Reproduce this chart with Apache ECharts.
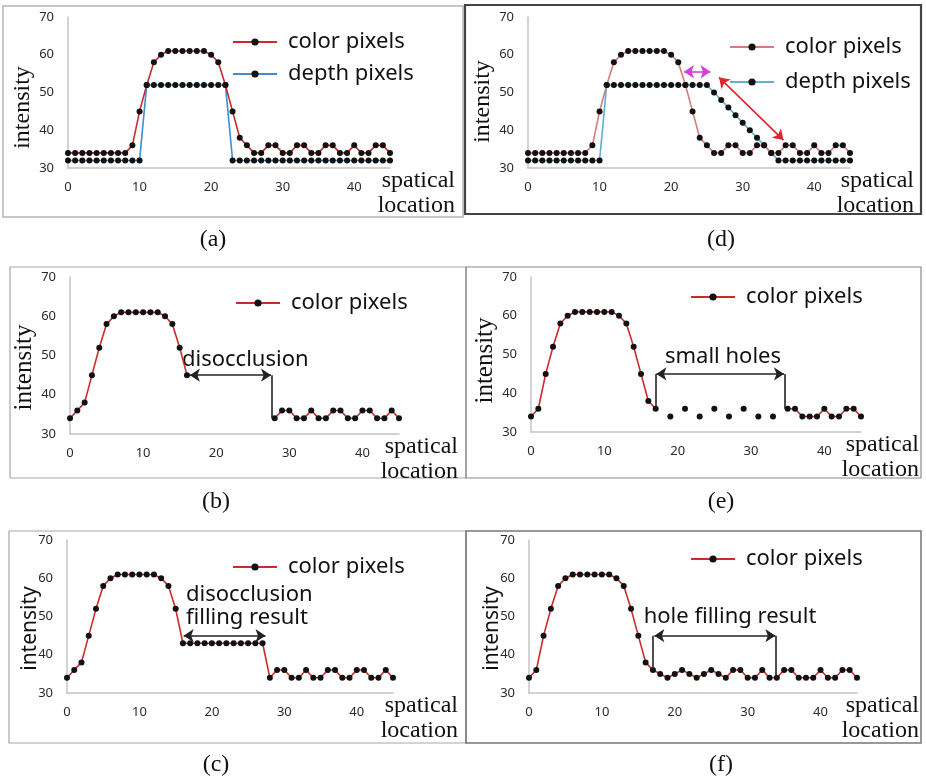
<!DOCTYPE html>
<html>
<head>
<meta charset="utf-8">
<script src="https://cdn.jsdelivr.net/npm/echarts@6/dist/echarts.min.js"></script>
<style>
  html, body { margin: 0; padding: 0; background: #fff; }
  #chart { width: 926px; height: 780px; }
</style>
</head>
<body>
<div id="chart"></div>
<script>
// spatial location of every pixel (x) and the axis ticks
var spatialLoc = [0,1,2,3,4,5,6,7,8,9,10,11,12,13,14,15,16,17,18,19,20,21,22,
  23,24,25,26,27,28,29,30,31,32,33,34,35,36,37,38,39,40,41,42,43,44,45]
var xTicks = [0, 10, 20, 30, 40]
var yTicks = [30, 40, 50, 60, 70]

// (a) original view
var colorA = [34,34,34,34,34,34,34,34,34,36,45,52,58,60,61,61,61,61,61,61,60,58,52,45,
  38,36,34,34,36,36,34,34,36,36,34,34,36,36,34,34,36,34,34,36,36,34]
var depthA = [32,32,32,32,32,32,32,32,32,32,32,52,52,52,52,52,52,52,52,52,52,52,52,
  32,32,32,32,32,32,32,32,32,32,32,32,32,32,32,32,32,32,32,32,32,32,32]
// (d) depth edge shifted / smoothed
var colorD = [34,34,34,34,34,34,34,34,34,36,45,52,58,60,61,61,61,61,61,61,60,58,52,45,
  38,36,34,34,36,36,34,34,36,36,34,34,36,36,34,34,36,34,34,36,36,34]
var depthD = [32,32,32,32,32,32,32,32,32,32,32,52,52,52,52,52,52,52,52,52,52,52,52,52,52,52,
  50,48,46,44,42,40,38,36,34,32,32,32,32,32,32,32,32,32,32,32,32]
// (b) disocclusion
var colorB = [34,36,38,45,52,58,60,61,61,61,61,61,61,60,58,52,45,
  null,null,null,null,null,null,null,null,null,null,null,
  34,36,36,34,34,36,34,34,36,36,34,34,36,36,34,34,36,34]
// (e) small holes
var colorE = [34,36,45,52,58,60,61,61,61,61,61,61,60,58,52,45,38,36,
  null,34,null,36,null,34,null,36,null,34,null,36,null,34,null,34,null,
  36,36,34,34,34,36,34,34,36,36,34]
// (c) disocclusion filling result
var colorC = [34,36,38,45,52,58,60,61,61,61,61,61,61,60,58,52,
  43,43,43,43,43,43,43,43,43,43,43,43,
  34,36,36,34,34,36,34,34,36,36,34,34,36,36,34,34,36,34]
// (f) hole filling result
var colorF = [34,36,45,52,58,60,61,61,61,61,61,61,60,58,52,45,38,36,
  35,34,35,36,35,34,35,36,35,34,36,36,34,34,36,34,34,
  36,36,34,34,34,36,34,34,36,36,34]

// annotation arrows, in data units [location, intensity]
var arrowB = [[16.4, 45], [27.5, 45]]
var stemB = [[27.6, 45], [27.6, 34]]
var arrowC = [[16.1, 45], [27.4, 45]]
var arrowE = [[17.1, 45], [34.5, 45]]
var stemE1 = [[17, 45], [17, 36]]
var stemE2 = [[34.6, 45], [34.6, 36]]
var arrowF = [[17.2, 45], [33.8, 45]]
var stemF1 = [[17, 45], [17, 36]]
var stemF2 = [[33.9, 45], [33.9, 34]]
var arrowD1 = [[21.8, 55.5], [25.5, 55.5]]
var arrowD2 = [[26.7, 54], [35.7, 37.4]]

var RED = '#cc2a2a'
var BLUE = '#3d8fd1'

function pairs(vals) {
  return spatialLoc.map(function (x, i) {
    return [x, vals[i] == null ? '-' : vals[i]]
  })
}

function seg(pts, color, arrow) {
  return [
    { coord: pts[0], lineStyle: { color: color }, symbol: arrow ? 'arrow' : 'none' },
    { coord: pts[1], symbol: arrow ? 'arrow' : 'none' }
  ]
}

var panels = [
  { cap: '(a)', capX: 213, capY: 240, box: [3, 6, 460, 211, '#b5b5b5', 1.5],
    grid: { left: 68, top: 17, width: 322, height: 151 },
    yName: { gap: 33, pad: 30, font: 'Liberation Serif', size: 24, move: true }, xGap: 65,
    legend: { left: 232, top: 28, gap: 8 },
    series: [
      { name: 'color pixels', data: colorA, color: RED },
      { name: 'depth pixels', data: depthA, color: BLUE }
    ], marks: [] },
  { cap: '(d)', capX: 721, capY: 240, box: [465, 5, 456, 209, '#444', 2.2],
    grid: { left: 528, top: 17, width: 322, height: 151 },
    yName: { gap: 33, pad: 18, font: 'Liberation Serif', size: 24, move: true }, xGap: 64,
    legend: { left: 729, top: 33, gap: 11 },
    series: [
      { name: 'color pixels', data: colorD, color: '#d77a7c' },
      { name: 'depth pixels', data: depthD, color: '#5fb0d2' }
    ],
    marks: [seg(arrowD1, '#d63fd6', true), seg(arrowD2, '#e3232b', true)] },
  { cap: '(b)', capX: 216, capY: 502, box: [10, 267, 456, 211, '#a8a8a8', 1.2],
    grid: { left: 70, top: 277, width: 329, height: 157 },
    yName: { gap: 30, pad: 24, font: 'Liberation Serif', size: 25, move: true }, xGap: 59,
    legend: { left: 235, top: 289, gap: 8 },
    series: [{ name: 'color pixels', data: colorB, color: RED }],
    marks: [seg(arrowB, '#222', true), seg(stemB, '#222', false)] },
  { cap: '(e)', capX: 721, capY: 502, box: [466, 267, 455, 211, '#8a8a8a', 1.2],
    grid: { left: 531, top: 277, width: 330, height: 155 },
    yName: { gap: 33, pad: 12, font: 'Liberation Serif', size: 25, move: true }, xGap: 58,
    legend: { left: 690, top: 283, gap: 8 },
    series: [{ name: 'color pixels', data: colorE, color: RED }],
    marks: [seg(arrowE, '#222', true), seg(stemE1, '#222', false), seg(stemE2, '#222', false)] },
  { cap: '(c)', capX: 216, capY: 765, box: [9, 531, 457, 212, '#a8a8a8', 1.2],
    grid: { left: 67, top: 540, width: 326, height: 153 },
    yName: { gap: 26, pad: 24, font: 'Noto Sans', size: 21, move: false }, xGap: 65,
    legend: { left: 232, top: 553, gap: 8 },
    series: [{ name: 'color pixels', data: colorC, color: RED }],
    marks: [seg(arrowC, '#222', true)] },
  { cap: '(f)', capX: 721, capY: 765, box: [466, 531, 455, 212, '#777', 1.5],
    grid: { left: 529, top: 540, width: 328, height: 153 },
    yName: { gap: 26, pad: 24, font: 'Noto Sans', size: 21, move: false }, xGap: 62,
    legend: { left: 690, top: 545, gap: 8 },
    series: [{ name: 'color pixels', data: colorF, color: RED }],
    marks: [seg(arrowF, '#222', true), seg(stemF1, '#222', false), seg(stemF2, '#222', false)] }
]

// free text labels next to the arrows
var notes = [
  { text: 'disocclusion', x: 182, y: 360, align: 'left' },
  { text: 'small holes', x: 723, y: 357, align: 'center' },
  { text: 'disocclusion\nfilling result', x: 186, y: 606, align: 'left' },
  { text: 'hole filling result', x: 730, y: 617, align: 'center' }
]

var option = {
  animation: false,
  textStyle: { fontFamily: 'Noto Sans' },
  grid: [], xAxis: [], yAxis: [], series: [], legend: [], graphic: []
}

panels.forEach(function (p, i) {
  option.grid.push(Object.assign({ containLabel: false }, p.grid))
  option.xAxis.push({
    type: 'value', gridIndex: i,
    min: xTicks[0], max: spatialLoc[spatialLoc.length - 1], interval: xTicks[1] - xTicks[0],
    axisLine: { onZero: false, lineStyle: { color: '#c4c4c4', width: 1.5 } },
    axisTick: { show: false },
    splitLine: { show: false },
    axisLabel: { showMaxLabel: false, margin: 13, fontSize: 13, color: '#2a2a2a' },
    name: 'spatical\nlocation', nameLocation: 'end', nameGap: p.xGap,
    nameTextStyle: { fontFamily: 'Liberation Serif', fontSize: 24, lineHeight: 25,
      color: '#111', align: 'right', verticalAlign: 'top' }
  })
  option.yAxis.push({
    type: 'value', gridIndex: i,
    min: yTicks[0], max: yTicks[yTicks.length - 1], interval: yTicks[1] - yTicks[0],
    axisLine: { show: true, onZero: false, lineStyle: { color: '#c4c4c4', width: 1.5 } },
    axisTick: { show: false },
    splitLine: { show: false },
    axisLabel: { margin: 14, fontSize: 13, color: '#2a2a2a' },
    name: 'intensity', nameLocation: 'middle', nameRotate: 90, nameGap: p.yName.gap,
    nameMoveOverlap: p.yName.move,
    nameTextStyle: { fontFamily: p.yName.font, fontSize: p.yName.size, color: '#111',
      padding: [0, p.yName.pad, 0, 0] }
  })
  p.series.forEach(function (s, k) {
    var ser = {
      type: 'line', name: s.name, xAxisIndex: i, yAxisIndex: i,
      data: pairs(s.data),
      symbol: 'circle', symbolSize: 6, showSymbol: true, connectNulls: false,
      itemStyle: { color: '#111' },
      lineStyle: { color: s.color, width: 1.6 },
      emphasis: { disabled: true },
      z: 3 - k
    }
    if (k === 0 && p.marks.length) {
      ser.markLine = {
        silent: true, animation: false,
        symbolSize: 10,
        label: { show: false },
        lineStyle: { type: 'solid', width: 1.6 },
        emphasis: { disabled: true },
        data: p.marks
      }
    }
    option.series.push(ser)
  })
  option.legend.push({
    orient: 'vertical', left: p.legend.left, top: p.legend.top + 2, itemGap: p.legend.gap,
    padding: 0, itemWidth: 44, itemHeight: 9, selectedMode: false,
    textStyle: { fontSize: 22, lineHeight: 24, color: '#111', padding: [0, 0, 0, 6] },
    data: p.series.map(function (s) {
      return { name: s.name, lineStyle: { color: s.color }, itemStyle: { color: '#111' } }
    })
  })
  option.graphic.push({
    type: 'rect', silent: true,
    shape: { x: p.box[0], y: p.box[1], width: p.box[2], height: p.box[3] },
    style: { fill: 'none', stroke: p.box[4], lineWidth: p.box[5] }
  })
  option.graphic.push({
    type: 'text', silent: true, x: p.capX, y: p.capY,
    style: { text: p.cap, fontFamily: 'Liberation Serif', fontSize: 24, fill: '#111',
      align: 'center', verticalAlign: 'middle' }
  })
})

notes.forEach(function (n) {
  option.graphic.push({
    type: 'text', silent: true, x: n.x, y: n.y,
    style: { text: n.text, fontFamily: 'Noto Sans', fontSize: 22, lineHeight: 23,
      fill: '#111', align: n.align, verticalAlign: 'middle' }
  })
})

var chart = echarts.init(document.getElementById('chart'))
chart.setOption(option)
</script>
</body>
</html>
